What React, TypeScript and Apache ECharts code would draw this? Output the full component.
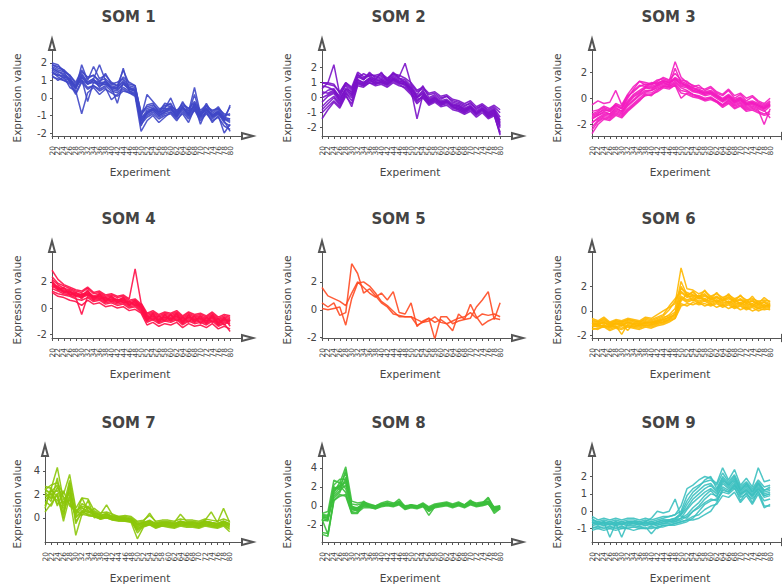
import React, { useEffect, useRef } from "react";
import * as echarts from "echarts";

const experimentLabels = [
  "20","22","24","26","28","30","32","34","36","38","40","42","44","46","48","50",
  "52","54","56","58","60","62","64","66","68","70","72","74","76","78","80",
];

const som1Lines = [
  [1.9,1.8,1.6,1.2,0.5,1.9,1.0,1.8,1.1,1.3,0.9,0.7,1.6,0.8,0.7,-1.0,-0.4,-0.3,-0.8,-0.5,-0.3,-0.9,-0.2,-0.8,0.6,-0.9,-0.3,-0.9,-0.6,-1.1,-0.5],
  [1.5,1.2,1.0,0.9,0.3,1.0,0.6,0.7,0.5,0.7,0.4,0.3,0.6,0.4,0.2,-1.5,-1.1,-0.9,-1.2,-1.0,-0.9,-1.3,-0.8,-1.2,-0.7,-1.3,-0.9,-1.3,-1.1,-1.6,-1.8],
  [2.0,1.9,1.5,1.3,0.8,1.5,1.2,1.3,0.9,1.4,0.8,0.9,1.1,0.7,0.6,-0.8,-0.5,-0.4,-0.7,-0.4,-0.5,-0.7,-0.4,-0.6,-0.3,-0.8,-0.5,-0.7,-0.6,-0.9,-1.0],
  [1.3,1.0,1.2,0.6,0.4,-0.9,0.3,0.6,0.2,0.5,0.3,0.1,0.4,0.3,0.1,-1.9,-1.3,-1.0,-1.4,-1.1,-0.8,-1.2,-0.9,-1.4,-0.6,-1.2,-0.8,-1.4,-1.0,-2.0,-1.5],
  [1.7,1.5,1.4,1.1,0.7,1.3,0.9,1.1,1.9,1.0,0.7,0.6,1.0,0.6,0.5,-1.1,0.2,-0.2,-0.6,-0.6,0.0,-0.8,-0.6,-0.7,-0.5,-1.1,-0.4,-1.1,-0.9,-1.3,-0.4],
  [1.6,1.4,1.1,1.0,0.6,1.1,-0.2,0.9,0.7,0.8,0.5,0.4,0.8,0.5,0.4,-1.3,-0.9,-0.7,-1.0,-0.8,-0.7,-1.0,-0.5,-1.0,-0.3,-1.0,-0.6,-1.0,-0.7,-1.2,-1.4],
  [1.4,1.3,1.3,1.0,0.6,1.2,0.8,1.0,0.8,0.9,0.6,-0.3,0.9,0.5,0.4,-1.6,-0.8,-0.6,-0.9,-0.7,-0.6,-1.1,-0.5,-0.9,-0.4,-1.5,-0.7,-1.0,-0.8,-1.3,-1.9],
  [1.8,1.6,1.5,0.9,0.5,1.4,0.9,1.1,0.6,1.0,0.6,0.5,1.7,0.4,0.3,-1.2,-0.7,-0.6,-0.9,-0.6,-0.6,-0.9,-0.5,-0.9,0.2,-1.0,-0.6,-1.0,-0.8,-1.2,-1.2],
  [1.2,1.1,1.0,0.8,0.2,0.9,0.5,0.7,0.4,0.6,-0.1,0.2,0.5,0.3,0.2,-1.4,-1.0,-0.8,-1.1,-0.9,-0.8,-1.1,-0.7,-1.1,-0.6,-1.1,-0.8,-1.2,-0.9,-1.4,-1.6],
  [1.9,1.7,1.6,1.3,0.9,1.6,1.1,1.3,1.0,1.1,0.8,0.7,1.2,0.9,0.7,-0.9,-0.6,-0.5,-0.8,-0.3,-0.4,-0.8,-0.3,-0.6,-0.2,-0.7,-0.4,-0.8,-0.5,-1.0,-0.9],
  [1.5,1.3,1.2,1.1,0.6,1.2,0.8,0.9,0.8,0.8,0.6,0.5,0.8,0.5,0.5,-1.3,-0.8,-0.7,-1.0,-0.8,-0.6,-1.0,-0.6,-1.0,-0.5,-1.0,-0.7,-1.1,-0.8,-1.2,-1.3],
  [1.7,1.5,1.3,1.0,0.7,1.0,0.8,1.0,0.9,0.9,0.6,0.6,0.9,0.6,0.4,-1.1,-0.9,-0.6,-0.8,-0.7,-0.5,-1.0,-0.5,-0.9,-0.4,-0.9,-0.6,-1.0,-0.8,-1.1,-1.2],
];

const som2Lines = [
  [1.0,1.0,0.9,0.3,1.0,0.6,1.5,1.3,1.6,1.4,1.5,1.2,1.6,1.4,2.3,0.9,0.4,0.6,0.2,0.3,0.0,0.1,-0.2,-0.3,-0.5,-0.4,-0.7,-0.5,-0.8,-0.6,-1.0],
  [-1.4,-0.8,-0.3,-0.7,0.1,-0.4,0.9,0.8,1.0,0.9,1.0,0.8,1.1,0.9,0.6,0.2,-0.4,0.0,-0.5,-0.3,-0.6,-0.5,-0.8,-0.9,-1.1,-0.9,-1.3,-1.0,-1.4,-1.2,-2.4],
  [0.6,1.0,2.2,0.2,0.8,0.3,1.4,1.2,1.5,1.2,1.3,1.1,1.4,1.2,1.1,0.7,0.1,0.4,-0.1,0.1,-0.2,-0.1,-0.4,-0.5,-0.7,-0.5,-0.9,-0.6,-1.0,-0.8,-1.6],
  [-0.3,0.1,0.3,-0.3,0.4,0.1,1.1,0.9,1.2,1.0,1.1,0.9,1.2,1.0,0.9,0.5,-1.4,0.2,-0.3,-0.1,-0.4,-0.3,-0.6,-0.7,-0.9,-0.7,-1.1,-0.8,-1.2,-1.0,-2.0],
  [0.2,0.5,0.6,0.0,0.6,0.4,1.3,1.6,1.4,1.2,1.7,1.1,1.5,1.3,1.2,0.8,0.2,0.8,0.0,0.2,-0.1,0.1,-0.3,-0.4,-0.6,-0.3,-0.8,-0.5,-0.9,-0.7,-1.3],
  [-1.0,-0.6,-0.2,-0.6,0.2,-0.6,0.8,0.7,1.0,0.8,0.9,0.7,1.0,0.8,0.7,0.3,-0.2,0.1,-0.4,-0.2,-0.5,-0.4,-0.7,-0.8,-1.0,-0.8,-1.2,-0.9,-1.3,-1.1,-2.3],
  [0.8,0.7,0.5,0.1,0.9,0.5,1.6,1.2,1.7,1.3,1.4,1.2,1.7,1.3,1.0,0.6,0.0,0.5,-0.2,0.0,-0.3,-0.2,-0.5,-0.5,-0.8,-0.6,-1.0,-0.7,-1.1,-0.9,-1.8],
  [-0.6,-0.2,0.1,-0.4,0.3,0.0,1.0,0.9,1.1,1.0,1.0,0.9,1.2,1.0,0.9,0.4,-0.3,0.2,-0.3,-0.1,-0.4,-0.2,-0.6,-0.7,-0.9,-0.6,-1.1,-0.8,-1.2,-1.0,-1.9],
  [0.4,0.3,0.5,-0.2,0.6,0.2,1.2,1.0,1.3,1.1,1.2,1.0,1.3,1.1,1.0,0.6,0.0,0.3,-0.2,0.0,-0.3,-0.2,-0.5,-0.6,-0.8,-0.6,-1.0,-0.7,-1.0,-0.8,-1.5],
  [-0.8,-0.4,0.0,-0.5,0.3,-0.2,1.0,0.8,1.2,0.9,1.1,0.9,1.2,1.0,0.8,0.4,-0.1,0.0,-0.4,-0.2,-0.5,-0.3,-0.6,-0.8,-1.0,-0.7,-1.1,-0.8,-1.3,-1.1,-2.5],
  [1.0,0.9,0.8,0.4,1.0,0.7,1.7,1.4,1.5,1.5,1.6,1.3,1.6,1.5,1.3,1.0,0.5,0.7,0.3,0.4,0.1,0.2,-0.1,-0.2,-0.4,-0.2,-0.6,-0.4,-0.7,-0.5,-0.8],
  [0.0,0.2,0.4,-0.1,0.5,0.2,1.2,1.0,1.3,1.1,1.2,1.0,1.3,1.1,1.0,0.6,0.0,0.3,-0.2,0.0,-0.3,-0.2,-0.5,-0.6,-0.8,-0.6,-1.0,-0.7,-1.1,-0.9,-1.7],
];

const som3Lines = [
  [-0.5,-0.2,-0.4,-0.3,0.6,-0.5,0.3,0.9,1.3,1.2,1.1,1.4,1.5,1.3,2.8,1.6,1.2,1.0,0.8,0.7,0.9,0.5,0.3,0.7,0.2,0.4,0.0,0.2,-0.2,-0.4,0.0],
  [-2.7,-2.0,-1.6,-1.7,-1.3,-1.5,-1.0,-0.6,-0.2,0.3,0.2,0.6,0.9,0.8,1.0,0.0,0.4,0.2,0.1,-0.1,0.0,-0.3,-0.6,-0.3,-0.7,-0.5,-0.9,-0.8,-1.0,-1.2,-1.0],
  [-1.4,-1.2,-0.8,-1.0,-0.5,-0.8,0.0,0.7,1.3,1.0,1.2,1.1,1.4,1.2,1.6,1.3,1.1,0.8,0.7,0.5,0.6,0.3,0.0,0.3,-0.1,0.1,-0.3,-0.2,-0.4,-0.6,-0.3],
  [-1.8,-1.6,-1.3,-1.4,-1.0,-1.2,-0.6,-0.2,0.2,0.5,0.6,0.8,1.0,0.9,1.2,0.8,0.6,0.3,0.2,0.0,0.1,-0.2,-0.5,-0.2,-0.6,-0.4,-0.8,-0.7,-0.9,-2.0,-0.8],
  [-1.2,-1.0,-0.7,-0.9,-0.4,-0.6,0.2,0.5,0.9,1.1,1.0,1.3,1.6,1.4,1.9,1.4,1.3,0.9,1.0,0.6,0.8,0.4,0.2,0.6,0.0,0.3,-0.2,0.1,-0.3,-0.5,-0.2],
  [-2.2,-1.7,-1.4,-1.5,-1.1,-1.3,-0.8,-0.4,0.0,0.4,0.4,0.7,0.9,0.9,1.1,0.6,0.5,0.3,0.1,-0.1,0.0,-0.2,-0.5,-0.1,-0.5,-0.3,-0.7,-0.6,-0.8,-1.0,-0.6],
  [-1.6,-1.3,-1.0,-1.2,-0.8,-1.0,-0.4,0.1,0.4,0.8,0.7,1.0,1.2,1.0,2.3,1.2,0.9,0.6,0.5,0.3,0.4,0.1,-0.2,0.1,-0.3,-0.1,-0.5,-0.4,-0.6,-0.8,-0.5],
  [-1.0,-0.9,-0.6,-0.8,-0.5,-0.7,0.1,0.6,1.0,0.9,1.1,1.2,1.3,1.2,1.5,1.2,1.0,0.7,0.6,0.4,0.5,0.2,-0.1,0.2,-0.2,0.0,-0.4,-0.3,-0.5,-0.7,-0.4],
  [-1.9,-1.5,-1.2,-1.3,-0.9,-1.1,-0.5,-0.1,0.3,0.6,0.6,0.9,1.1,1.0,1.3,0.9,0.8,0.5,0.4,0.2,0.3,0.0,-0.3,0.0,-0.4,-0.2,-0.6,-0.5,-0.7,-0.9,-1.5],
  [-1.3,-1.1,-0.9,-1.0,-0.6,-0.8,-0.2,0.3,0.6,0.9,0.9,1.1,1.3,1.2,1.4,1.1,1.0,0.8,0.6,0.4,0.5,0.2,-0.1,0.2,-0.2,0.0,-0.4,-0.3,-0.5,-0.7,-0.4],
  [-1.5,-1.3,-1.1,-1.2,-0.7,-1.0,-0.3,0.2,0.5,0.8,0.8,1.0,1.2,1.1,1.5,1.0,0.9,0.6,0.5,0.3,0.4,0.1,-0.2,0.1,-0.3,-0.1,-0.5,-0.4,-0.6,-0.8,-0.5],
  [-2.4,-1.8,-1.5,-1.6,-1.2,-1.4,-0.9,-0.5,-0.1,0.2,0.3,0.5,0.8,0.7,1.0,0.4,0.3,0.1,0.0,-0.2,-0.1,-0.3,-0.7,-0.4,-0.8,-0.6,-1.0,-0.9,-1.1,-1.3,-1.2],
];

const som4Lines = [
  [2.9,2.2,1.8,1.6,1.4,1.3,1.6,1.2,1.3,1.0,1.1,0.9,1.0,0.7,3.0,0.4,-0.4,-0.2,-0.5,-0.3,-0.4,-0.2,-0.6,-0.3,-0.5,-0.4,-0.6,-0.3,-0.7,-0.5,-0.6],
  [1.2,0.9,0.8,0.6,0.5,0.2,0.6,0.3,0.4,0.1,0.2,0.0,0.1,-0.2,-0.1,-0.4,-1.3,-1.1,-1.4,-1.2,-1.3,-1.1,-1.5,-1.2,-1.4,-1.3,-1.5,-1.2,-1.6,-1.4,-1.6],
  [2.2,1.8,1.5,1.4,1.2,1.0,1.3,0.9,1.1,0.8,0.9,0.6,0.8,0.5,0.6,0.2,-0.6,-0.4,-0.7,-0.5,-0.6,-0.4,-0.8,-0.5,-0.7,-0.6,-0.8,-0.5,-0.9,-0.7,-0.8],
  [1.5,1.3,1.1,1.0,0.8,-0.5,0.9,0.6,0.7,0.4,0.5,0.3,0.4,0.1,0.2,-0.2,-1.0,-0.8,-1.1,-0.9,-1.0,-0.8,-1.2,-0.9,-1.1,-1.0,-1.2,-0.9,-1.3,-1.1,-1.2],
  [2.0,1.6,1.4,1.3,1.1,1.0,1.2,0.8,1.0,0.7,0.8,0.6,0.7,0.4,0.5,0.1,-0.7,-0.5,-0.8,-0.6,-0.7,-0.5,-0.9,-0.6,-0.8,-0.7,-0.9,-0.6,-1.0,-0.8,-0.9],
  [1.7,1.4,1.2,1.1,0.9,0.8,1.0,0.7,0.8,0.5,0.6,0.4,0.5,0.2,0.3,-0.1,-0.9,-0.7,-1.0,-0.8,-0.9,-0.7,-1.1,-0.8,-1.0,-0.9,-1.1,-0.8,-1.2,-1.0,-1.1],
  [2.4,1.9,1.7,1.5,1.3,1.2,1.5,1.1,1.2,0.9,1.0,0.8,0.9,0.6,0.7,0.3,-0.5,-0.3,-0.6,-0.4,-0.5,-0.3,-0.7,-0.4,-0.6,-0.5,-0.7,-0.4,-0.8,-0.6,-0.7],
  [1.3,1.1,1.0,0.9,0.7,0.6,0.8,0.5,0.6,0.3,0.4,0.2,0.3,0.0,0.1,-0.3,-1.1,-0.9,-1.2,-1.0,-1.1,-0.9,-1.3,-1.0,-1.2,-1.1,-1.3,-1.0,-1.4,-1.2,-1.8],
  [1.9,1.5,1.3,1.2,1.0,0.9,1.1,0.8,0.9,0.6,0.7,0.5,0.6,0.3,0.4,0.0,-0.8,-0.6,-0.9,-0.7,-0.8,-0.6,-1.0,-0.7,-0.9,-0.8,-1.0,-0.7,-1.1,-0.9,-1.0],
  [1.6,1.7,1.2,1.3,0.9,1.1,1.0,0.9,0.7,0.8,0.5,0.7,0.4,0.5,0.2,0.3,-0.6,-0.9,-0.6,-1.0,-0.5,-1.0,-0.7,-1.1,-0.6,-1.2,-0.7,-1.1,-0.8,-1.3,-0.9],
  [2.1,1.4,1.6,1.0,1.2,0.7,1.4,0.6,1.1,0.5,0.9,0.4,0.8,0.2,0.6,0.1,-1.0,-0.4,-1.1,-0.5,-1.0,-0.4,-1.2,-0.5,-1.1,-0.6,-1.2,-0.5,-1.3,-0.7,-1.4],
  [1.8,1.5,1.3,1.2,1.0,0.9,1.1,0.8,0.9,0.6,0.7,0.5,0.6,0.3,0.4,0.0,-0.8,-0.6,-0.9,-0.7,-0.8,-0.6,-1.0,-0.7,-0.9,-0.8,-1.0,-0.7,-1.1,-0.9,-1.0],
];

const som5Lines = [
  [1.6,1.0,0.8,0.6,0.3,1.2,2.0,1.6,1.2,0.9,1.2,0.7,1.3,-0.2,-0.3,0.5,-1.2,-0.8,-0.6,-0.9,-0.7,-1.0,-0.8,-0.6,-0.5,-0.2,-0.6,-0.3,-0.4,-0.3,-0.5],
  [0.5,0.2,0.5,-0.4,-0.2,3.3,2.6,1.2,1.5,1.0,0.5,0.2,-0.3,-0.4,-0.5,-0.5,-1.1,-0.9,-0.8,-0.5,-0.9,-1.0,-1.5,-0.3,-0.7,0.4,-0.5,-1.1,-0.8,-0.6,-0.7],
  [0.1,0.0,0.1,0.2,-1.1,0.8,1.9,2.0,1.7,1.2,0.6,0.3,-0.1,-0.5,-0.5,-0.5,-0.7,-0.9,-0.6,-2.1,-0.5,-0.5,-1.0,-0.8,-0.7,-0.6,0.2,0.7,1.3,-0.7,0.5],
];

const som6Lines = [
  [-0.6,-0.8,-0.5,-0.9,-0.7,-0.8,-0.6,-0.7,-0.8,-0.5,-0.6,-0.3,0.0,0.3,0.6,3.5,1.8,1.7,1.4,1.6,1.2,1.4,1.1,1.3,1.0,1.2,0.9,1.0,0.8,0.9,0.8],
  [-1.5,-1.4,-1.3,-1.6,-1.4,-1.5,-1.3,-1.4,-1.5,-1.3,-1.4,-1.2,-1.1,-0.9,-0.6,0.6,0.4,0.7,0.5,0.6,0.4,0.6,0.3,0.5,0.2,0.4,0.1,0.3,0.0,0.2,0.1],
  [-1.0,-1.1,-0.9,-1.2,-1.0,-1.1,-0.9,-1.0,-1.1,-0.9,-1.0,-0.8,-0.6,-0.3,0.2,2.4,1.3,1.5,1.1,1.3,1.0,1.2,0.9,1.1,0.8,1.0,0.7,0.9,0.6,0.8,0.6],
  [-1.2,-1.3,-1.1,-1.4,-1.2,-1.9,-1.1,-1.2,-1.3,-1.1,-1.2,-1.0,-0.9,-0.7,-0.5,1.0,0.7,0.9,0.6,0.8,0.5,0.7,0.4,0.6,0.3,0.5,0.2,0.4,0.2,0.3,0.3],
  [-0.8,-0.9,-0.7,-1.0,-0.8,-0.9,-0.7,-0.8,-0.9,-0.7,-0.8,-0.6,-0.4,0.1,0.8,1.8,1.5,1.3,1.2,1.4,0.9,1.1,0.8,1.2,0.7,0.9,0.6,0.8,0.5,0.7,0.4],
  [-1.3,-1.2,-1.2,-1.3,-1.1,-1.2,-1.0,-1.1,-1.2,-1.0,-1.1,-0.9,-0.8,-0.6,-0.4,1.2,0.9,1.1,0.8,1.0,0.7,0.9,0.6,0.8,0.5,0.7,0.4,0.6,0.3,0.5,0.4],
  [-0.9,-1.0,-0.8,-1.1,-0.9,-1.0,-0.8,-0.9,-1.0,-0.8,-0.9,-0.7,-0.5,-0.4,-0.1,1.5,1.1,1.3,1.0,1.2,0.9,1.1,0.8,1.0,0.7,0.9,0.6,0.8,0.5,0.7,0.5],
  [-1.1,-1.0,-1.0,-1.1,-1.0,-1.0,-1.6,-1.0,-1.0,-1.0,-0.9,-0.9,-0.7,-0.5,-0.3,0.8,1.4,0.8,1.3,0.8,1.2,0.7,1.1,0.6,1.0,0.5,0.9,0.4,0.8,0.3,0.6],
  [-1.4,-1.5,-1.2,-1.5,-1.3,-1.4,-1.2,-1.3,-1.4,-1.2,-1.3,-1.1,-1.0,-0.8,-0.6,0.4,0.6,0.5,0.7,0.4,0.6,0.3,0.5,0.2,0.4,0.1,0.3,0.0,0.2,0.1,0.2],
  [-0.7,-0.9,-0.6,-1.0,-0.8,-0.9,-0.7,-0.8,-0.9,-0.6,-0.7,-0.5,-0.3,0.4,1.0,1.6,1.2,1.6,1.1,1.7,1.0,1.5,0.9,1.4,0.8,1.3,0.7,1.2,0.6,1.1,0.7],
  [-1.0,-1.2,-0.9,-1.3,-1.0,-1.2,-0.9,-1.1,-1.2,-0.9,-1.0,-0.8,-0.7,-0.5,-0.3,1.1,0.8,1.0,0.7,0.9,0.6,0.8,0.5,0.7,0.4,0.6,0.3,0.5,0.2,0.4,0.4],
  [-1.2,-1.1,-1.3,-1.2,-1.3,-1.2,-1.2,-1.3,-1.1,-1.2,-1.1,-1.0,-0.9,-0.7,-0.2,2.0,1.2,1.2,1.0,1.0,0.8,0.9,0.7,0.8,0.6,0.7,0.5,0.6,0.4,0.5,0.3],
];

const som7Lines = [
  [2.7,2.5,4.3,1.5,2.2,0.5,1.0,0.8,0.4,0.2,0.3,0.1,0.0,0.0,-0.1,-0.5,-0.4,-0.3,-0.5,-0.4,-0.4,-0.5,-0.3,-0.4,-0.4,-0.5,-0.3,-0.4,-0.5,-0.3,-0.5],
  [0.5,1.2,2.0,-0.3,1.8,-1.5,0.3,0.2,0.1,-0.1,0.0,-0.2,-0.3,-0.3,-0.4,-1.8,-0.8,-0.6,-0.9,-0.7,-0.8,-0.9,-0.7,-0.8,-0.8,-0.9,-0.7,-0.8,-0.9,-0.7,-1.2],
  [2.4,2.8,3.0,2.0,3.7,0.8,1.7,1.6,0.6,0.3,1.1,0.2,0.1,0.1,0.0,-0.4,-0.3,0.4,-0.4,-0.3,-0.3,-0.4,0.3,-0.3,-0.3,-0.4,-0.2,0.5,-0.4,0.8,-0.4],
  [1.6,1.8,1.5,0.8,2.5,0.0,0.6,0.5,0.2,0.0,0.1,-0.1,-0.2,-0.2,-0.3,-1.0,-0.6,-0.5,-0.7,-0.6,-0.6,-0.7,-0.5,-0.6,-0.6,-0.7,-0.5,-0.6,-0.7,-0.5,-0.7],
  [2.2,1.6,2.6,1.8,1.2,0.4,1.2,0.9,0.5,0.2,0.4,0.1,0.0,-0.1,-0.1,-0.6,-0.4,-0.2,-0.5,-0.4,-0.4,-0.5,-0.3,-0.5,-0.4,-0.5,-0.3,-0.4,-0.5,-0.3,-0.6],
  [1.0,2.4,1.8,0.3,2.8,-0.3,0.4,1.5,0.0,0.1,0.0,-0.1,-0.2,-0.2,-0.2,-1.3,-0.7,-0.5,-0.8,-0.6,-0.7,-0.8,-0.6,-0.7,-0.7,-0.8,-0.6,-0.7,-0.8,-0.6,-1.0],
  [2.5,1.9,2.4,1.0,3.2,0.6,0.9,0.4,0.8,0.4,0.5,0.3,0.1,0.2,0.1,-0.3,-0.2,0.2,-0.3,-0.2,-0.2,-0.3,-0.1,-0.2,-0.2,-0.3,-0.1,-0.2,-0.3,-0.1,-0.3],
  [1.8,2.1,1.2,1.4,1.5,0.2,1.7,0.6,0.3,0.0,0.2,0.0,-0.1,-0.1,-0.2,-0.8,-0.5,-0.4,-0.6,-0.5,-0.5,-0.6,-0.4,-0.5,-0.5,-0.6,-0.4,-0.5,-0.6,-0.4,-0.6],
  [2.0,1.4,3.4,0.5,1.9,0.1,0.5,0.3,0.2,-0.1,0.1,-0.1,-0.2,-0.2,-0.3,-0.9,-0.6,-0.5,-0.7,-0.6,-0.6,-0.7,-0.5,-0.6,-0.6,-0.7,-0.5,-0.6,-0.7,-0.5,-0.8],
  [0.8,2.6,1.0,2.3,1.0,0.7,0.2,1.0,0.4,0.2,0.3,0.1,0.0,0.0,-0.1,-0.6,-0.4,-0.3,-0.5,-0.4,-0.4,-0.5,-0.3,-0.4,-0.4,-0.5,-0.3,-0.4,-0.5,-0.3,-0.5],
  [2.3,2.2,2.8,1.2,2.1,0.3,0.8,0.6,0.3,0.1,0.2,0.0,-0.1,-0.1,-0.2,-0.7,-0.5,-0.4,-0.6,-0.5,-0.5,-0.6,-0.4,-0.5,-0.5,-0.6,-0.4,-0.5,-0.6,-0.4,-0.6],
  [1.4,1.0,2.1,0.0,3.0,-0.5,0.6,0.2,0.1,-0.1,0.0,-0.2,-0.2,-0.3,-0.3,-1.1,-0.7,-0.6,-0.8,-0.7,-0.7,-0.8,-0.6,-0.7,-0.7,-0.8,-0.6,-0.7,-0.8,-0.6,-0.9],
];

const som8Lines = [
  [-3.0,-3.2,0.5,1.2,1.0,-0.8,-0.8,0.3,0.1,-0.2,0.2,0.3,0.2,0.7,-0.1,0.1,-0.1,0.2,-0.4,0.1,0.1,0.3,0.0,0.3,0.0,0.4,0.1,0.3,0.9,-0.2,-0.1],
  [-0.8,-0.6,2.7,2.4,4.1,0.5,0.3,0.4,0.2,0.0,0.3,0.5,0.3,0.4,0.0,0.1,0.0,0.3,-0.1,0.2,0.3,0.4,0.2,0.4,0.1,0.5,0.3,0.4,0.5,-0.1,0.0],
  [-1.5,-1.6,1.8,2.0,3.5,-0.3,-0.5,0.0,-0.1,-0.3,0.0,0.1,0.0,0.2,-0.3,-0.1,-0.2,0.0,-1.0,-0.1,0.0,0.1,-0.1,0.1,-0.1,0.2,0.0,0.1,0.3,-0.8,-0.3],
  [-1.2,-1.3,1.0,1.6,2.2,-0.1,-0.2,0.2,0.1,-0.1,0.1,0.2,0.1,0.3,-0.2,0.0,-0.1,0.1,-0.3,0.0,0.1,0.2,0.0,0.2,0.0,0.3,0.1,0.2,0.4,-0.3,-0.1],
  [-1.0,-1.1,2.2,2.8,2.8,0.0,-0.4,0.5,0.0,-0.1,0.2,0.3,0.1,0.5,-0.2,0.1,-0.2,0.1,-0.4,0.0,0.2,0.2,0.1,0.2,0.1,0.6,0.1,0.3,0.4,-0.4,-0.2],
  [-1.4,-3.0,0.8,1.4,3.0,-0.4,-0.3,0.0,-0.1,-0.2,0.0,0.1,0.0,0.2,-0.3,-0.1,-0.2,0.0,-0.6,-0.1,0.0,0.1,-0.1,0.1,-0.1,0.2,0.0,0.1,0.2,-0.5,-0.2],
  [-1.6,-1.4,1.5,2.1,1.4,-0.6,-0.4,0.1,0.0,-0.2,0.1,0.2,0.0,0.3,-0.2,0.0,-0.1,0.1,-0.2,0.0,0.1,0.2,0.0,0.2,-0.1,0.3,0.1,0.2,0.8,-0.3,-0.1],
  [-0.9,-1.0,1.2,1.9,2.6,0.2,0.1,0.3,0.1,0.0,0.2,0.3,0.2,0.4,-0.1,0.1,0.0,0.2,-0.2,0.1,0.2,0.3,0.1,0.3,0.1,0.4,0.2,0.3,0.5,-0.2,0.0],
  [-1.3,-1.5,2.0,1.7,3.8,-0.2,-0.6,0.0,0.0,-0.1,0.1,0.2,0.1,0.3,-0.2,0.0,-0.1,0.1,-0.3,0.0,0.1,0.2,0.0,0.2,0.0,0.3,0.1,0.2,0.4,-0.3,-0.1],
  [-1.1,-1.2,1.4,2.5,1.8,-0.3,-0.2,0.2,-0.1,-0.1,0.1,0.2,0.1,0.2,-0.2,-0.1,-0.1,0.1,-0.3,-0.1,0.1,0.1,0.0,0.1,0.0,0.3,0.0,0.2,0.3,-0.4,-0.2],
  [-2.8,-2.9,0.6,1.0,1.2,-0.7,-0.7,-0.2,-0.2,-0.3,-0.1,0.0,-0.1,0.1,-0.4,-0.2,-0.3,-0.1,-0.5,-0.2,-0.1,0.0,-0.2,0.0,-0.2,0.1,-0.1,0.0,0.2,-0.6,-0.3],
  [-1.2,-1.3,1.7,2.2,2.4,-0.1,-0.3,0.1,0.0,-0.1,0.1,0.2,0.1,0.3,-0.2,0.0,-0.1,0.1,-0.3,0.0,0.1,0.2,0.0,0.2,0.0,0.3,0.1,0.2,0.4,-0.3,-0.1],
];

const som9Lines = [
  [-0.5,-0.6,-0.5,-0.6,-0.5,-0.6,-0.5,-0.5,-0.6,-0.5,-0.6,-0.5,-0.4,-0.3,-0.2,0.3,1.3,1.5,1.8,2.0,1.9,1.6,2.5,1.8,2.4,1.5,1.9,1.4,2.5,1.7,1.8],
  [-0.4,-0.7,-0.6,-1.5,-0.7,-0.8,-0.6,-0.6,-0.7,-0.6,-0.7,-0.6,-0.5,-0.5,-0.4,-0.1,0.6,1.1,1.4,1.8,2.0,1.3,2.0,1.6,2.0,1.2,1.6,1.1,1.6,1.2,1.3],
  [-0.9,-1.0,-0.9,-1.0,-0.9,-1.0,-0.9,-0.9,-1.0,-0.9,-1.3,-0.9,-0.8,-0.8,-0.7,-0.6,-0.5,-0.5,-0.4,-0.2,0.0,0.5,1.2,1.1,1.4,0.6,1.1,0.5,1.2,0.3,0.3],
  [-0.7,-0.8,-0.7,-0.8,-0.7,-1.5,-0.7,-0.7,-0.8,-0.7,-0.8,-0.7,-0.6,-0.6,-0.5,-0.4,-0.2,0.2,0.5,0.9,1.2,0.8,1.6,1.3,1.6,1.0,1.3,0.9,1.4,0.9,1.0],
  [-0.6,-0.7,-0.6,-0.7,-0.6,-0.7,-0.6,-0.6,-0.7,-0.6,-0.4,0.0,-0.1,0.0,0.7,-0.3,-0.4,0.0,0.3,0.7,1.0,0.9,1.4,1.2,1.5,1.0,1.2,0.9,1.3,0.9,1.0],
  [-1.1,-1.0,-1.1,-1.0,-1.1,-1.0,-1.0,-1.1,-1.0,-1.0,-1.0,-0.9,-0.9,-0.8,-0.8,-0.7,-0.6,-0.4,0.0,0.4,0.6,0.7,1.1,1.0,1.3,0.8,1.0,0.7,1.1,0.6,0.7],
  [-0.3,-0.5,-0.4,-0.5,-0.4,-0.5,-0.4,-0.4,-0.5,-0.4,-0.5,-0.4,-0.3,-0.3,-0.2,0.0,0.9,1.3,1.5,1.7,1.8,1.5,2.2,1.7,2.1,1.4,1.7,1.3,1.8,1.4,1.5],
  [-0.8,-0.9,-0.8,-0.9,-0.8,-0.9,-0.8,-0.8,-0.9,-0.8,-0.9,-0.8,-0.7,-0.7,-0.6,-0.5,-0.3,0.0,0.2,0.5,0.7,0.6,1.3,1.1,1.5,0.9,1.2,0.8,1.3,0.8,0.9],
  [-0.6,-0.8,-0.6,-0.8,-0.6,-0.8,-0.6,-0.7,-0.8,-0.6,-0.8,-0.6,-0.5,-0.5,-0.4,-0.2,0.2,0.7,1.0,1.3,1.5,1.1,1.8,1.5,1.8,1.2,1.5,1.1,1.6,1.1,1.2],
  [-1.0,-0.9,-1.0,-0.9,-1.0,-0.9,-1.0,-0.9,-0.9,-1.0,-0.9,-1.0,-0.8,-0.8,-0.7,-0.6,-0.5,-0.3,-0.2,0.1,0.3,0.4,0.9,0.8,1.1,0.5,0.9,0.4,1.0,0.2,0.4],
  [-0.7,-0.7,-0.8,-0.7,-0.8,-0.7,-0.8,-0.7,-0.7,-0.8,-0.7,-0.8,-0.7,-0.6,-0.6,-0.4,0.1,0.5,0.8,1.1,1.3,1.0,1.7,1.4,1.7,1.1,1.4,1.0,1.5,1.0,1.1],
  [-0.5,-0.6,-0.7,-0.6,-0.7,-0.6,-0.7,-0.6,-0.6,-0.7,-0.6,-0.7,-0.6,-0.5,-0.5,-0.2,0.4,0.9,1.2,1.5,1.6,1.2,1.9,1.5,1.9,1.3,1.6,1.2,1.7,1.2,1.4],
];

const panelTitles = ["SOM 1","SOM 2","SOM 3","SOM 4","SOM 5","SOM 6","SOM 7","SOM 8","SOM 9"];
const panelLines = [som1Lines, som2Lines, som3Lines, som4Lines, som5Lines, som6Lines, som7Lines, som8Lines, som9Lines];
const panelColors = ["#3f47c6","#7a12c8","#f31cc0","#ff1048","#ff4a22","#ffb800","#8cc60a","#3cbf3c","#3cc0c0"];
const panelYMin = [-2.17, -2.55, -2.88, -2.3, -2.02, -2.2, -2.07, -3.8, -1.77];
const panelYMax = [2.74, 3.18, 3.69, 4.3, 4.14, 4.8, 5.28, 5.24, 3.18];
const panelYTicks = [
  [-2,-1,0,1,2],[-2,-1,0,1,2],[-2,0,2],
  [-2,0,2],[-2,0,2],[-2,0,2],
  [0,2,4],[-2,0,2,4],[-1,0,1,2],
];

export default function App() {
  const ref = useRef<HTMLDivElement>(null);
  useEffect(() => {
    if (!ref.current) return;
    const chart = echarts.init(ref.current, null, { renderer: "svg" });
    const colX = [0, 270, 540];
    const rowY = [0, 202, 406];
    const font = "DejaVu Sans";
    const axisColor = "#555";
    const grids: any[] = [];
    const xAxes: any[] = [];
    const yAxes: any[] = [];
    const series: any[] = [];
    const graphics: any[] = [];
    const cats = [...experimentLabels, "", ""];
    const nLab = experimentLabels.length;

    panelTitles.forEach((title, p) => {
      const cx = colX[p % 3];
      const ry = rowY[Math.floor(p / 3)];
      const leftOff = panelYTicks[p].every((v) => v >= 0) ? 45 : 52;
      const left = cx + leftOff;
      const right = cx + 242;
      grids.push({ left, top: ry + 50, width: right - left, height: 86 });
      xAxes.push({
        gridIndex: p,
        type: "category",
        boundaryGap: false,
        data: cats,
        axisLine: {
          onZero: false,
          lineStyle: { color: axisColor, width: 1 },
          symbol: ["none", "emptyTriangle"],
          symbolSize: [6, 11],
          symbolOffset: [0, 5.5],
        },
        axisTick: {
          show: true,
          length: 3,
          interval: (i: number) => i < nLab,
          lineStyle: { color: axisColor },
        },
        axisLabel: {
          interval: 0,
          hideOverlap: false,
          rotate: 90,
          fontSize: 7.5,
          fontFamily: font,
          color: "#444",
          margin: 10,
        },
        splitLine: { show: false },
      });
      yAxes.push({
        gridIndex: p,
        type: "value",
        min: panelYMin[p],
        max: panelYMax[p],
        axisLine: {
          show: true,
          onZero: false,
          lineStyle: { color: axisColor, width: 1 },
          symbol: ["none", "emptyTriangle"],
          symbolSize: [6, 11],
          symbolOffset: [0, 5.5],
        },
        axisTick: { show: true, length: 2, customValues: panelYTicks[p], lineStyle: { color: axisColor } },
        axisLabel: {
          customValues: panelYTicks[p],
          fontSize: 10,
          fontFamily: font,
          color: "#444",
          margin: 5,
        },
        splitLine: { show: false },
      });
      panelLines[p].forEach((line) => {
        series.push({
          type: "line",
          xAxisIndex: p,
          yAxisIndex: p,
          data: line,
          symbol: "none",
          silent: true,
          lineStyle: { color: panelColors[p], width: 1.5, opacity: 0.9 },
        });
      });
      graphics.push({
        type: "text",
        x: cx + 128.5,
        y: ry + 17,
        style: { text: title, fontSize: 15, fontWeight: "bold", fontFamily: font, fill: "#444", align: "center", verticalAlign: "middle" },
      });
      graphics.push({
        type: "text",
        x: cx + 17,
        y: ry + 98,
        rotation: Math.PI / 2,
        style: { text: "Expression value", fontSize: 10.5, fontFamily: font, fill: "#444", align: "center", verticalAlign: "middle" },
      });
      graphics.push({
        type: "text",
        x: cx + 140,
        y: ry + 172,
        style: { text: "Experiment", fontSize: 10.5, fontFamily: font, fill: "#444", align: "center", verticalAlign: "middle" },
      });
    });

    chart.setOption({
      animation: false,
      backgroundColor: "#ffffff",
      grid: grids,
      xAxis: xAxes,
      yAxis: yAxes,
      series,
      graphic: graphics,
    });
    return () => chart.dispose();
  }, []);
  return <div ref={ref} style={{ position: "absolute", left: 0, top: 0, width: 782, height: 586 }} />;
}
